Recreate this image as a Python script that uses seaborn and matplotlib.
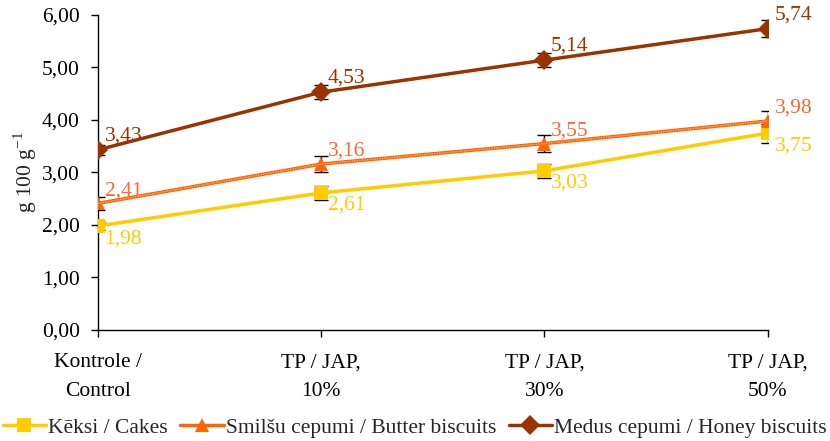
import numpy as np
import pandas as pd
import seaborn as sns
import matplotlib.pyplot as plt

# categories and series
categories = ['Kontrole /\nControl', 'TP / JAP,\n10%', 'TP / JAP,\n30%', 'TP / JAP,\n50%']
cakes = [1.98, 2.61, 3.03, 3.75]
butter = [2.41, 3.16, 3.55, 3.98]
honey = [3.43, 4.53, 5.14, 5.74]
cakes_err = [0.07, 0.13, 0.14, 0.18]
butter_err = [0.12, 0.16, 0.17, 0.20]
honey_err = [0.10, 0.13, 0.13, 0.16]
series_names = ['Kēksi / Cakes', 'Smilšu cepumi / Butter biscuits', 'Medus cepumi / Honey biscuits']

sns.set_style('ticks')
plt.rcParams['font.family'] = ['Liberation Serif', 'DejaVu Serif']
plt.rcParams['mathtext.fontset'] = 'custom'
plt.rcParams['mathtext.rm'] = 'Liberation Serif'
fs = 15.5

df = pd.DataFrame({
    'cat': categories * 3,
    'value': cakes + butter + honey,
    'series': [series_names[0]] * 4 + [series_names[1]] * 4 + [series_names[2]] * 4,
})

colors = {series_names[0]: '#FFCC00', series_names[1]: '#FF6600', series_names[2]: '#993300'}
markers = {series_names[0]: 's', series_names[1]: '^', series_names[2]: 'D'}
text_col = {series_names[0]: '#FFCC00', series_names[1]: '#FF6633', series_names[2]: '#993300'}

fig = plt.figure(figsize=(8.3, 4.41), dpi=100)
ax = fig.add_axes([0.118, 0.252, 0.807, 0.714])

xs = np.arange(len(categories))
for vals, errs in [(cakes, cakes_err), (butter, butter_err), (honey, honey_err)]:
    ax.errorbar(xs, vals, yerr=errs, fmt='none', ecolor='black', elinewidth=1,
                capsize=5, capthick=1, zorder=2)

sns.lineplot(data=df, x='cat', y='value', hue='series', style='series',
             palette=colors, markers=markers, dashes=False, linewidth=2.5,
             markersize=10, markeredgewidth=0, ax=ax, legend=True, zorder=3)

# dotted texture on the butter line
ax.plot(xs, butter, color='#FFB38A', linewidth=0.9, linestyle=(0, (1, 1)), zorder=4)

# value labels
for i, v in enumerate(honey):
    ax.text(i + 0.03, v + 0.08, f'{v:.2f}'.replace('.', ','), color=text_col[series_names[2]],
            ha='left', va='bottom', fontsize=fs)
for i, v in enumerate(butter):
    ax.text(i + 0.03, v + 0.06, f'{v:.2f}'.replace('.', ','), color=text_col[series_names[1]],
            ha='left', va='bottom', fontsize=fs)
for i, v in enumerate(cakes):
    ax.text(i + 0.03, v - 0.06, f'{v:.2f}'.replace('.', ','), color=text_col[series_names[0]],
            ha='left', va='top', fontsize=fs)

ax.set_xlim(0, 3)
ax.set_ylim(0, 6)
ax.set_yticks(np.arange(0, 6.01, 1))
ax.set_yticklabels([f'{t:.2f}'.replace('.', ',') for t in np.arange(0, 6.01, 1)])
ax.set_xticks(xs)
ax.set_xticklabels(categories, linespacing=1.7)
ax.set_xlabel('')
ax.set_ylabel('g 100 g$^{\\mathregular{-1}}$', fontsize=fs, labelpad=2)
ax.tick_params(axis='both', labelsize=fs, direction='out', length=5, width=1, colors='black')
ax.tick_params(axis='x', pad=12)
ax.tick_params(axis='y', pad=8)
for s in ['top', 'right']:
    ax.spines[s].set_visible(False)
for s in ['left', 'bottom']:
    ax.spines[s].set_color('black')
    ax.spines[s].set_linewidth(1)
ax.spines['bottom'].set_bounds(0, 3)

handles, labels = ax.get_legend_handles_labels()
ax.legend(handles, labels, loc='center', bbox_to_anchor=(0.473, -0.31),
          ncol=3, frameon=False, fontsize=fs, handlelength=2.0, handletextpad=0.1,
          columnspacing=0.6, borderaxespad=0)

fig.savefig('out.png', dpi=100)
